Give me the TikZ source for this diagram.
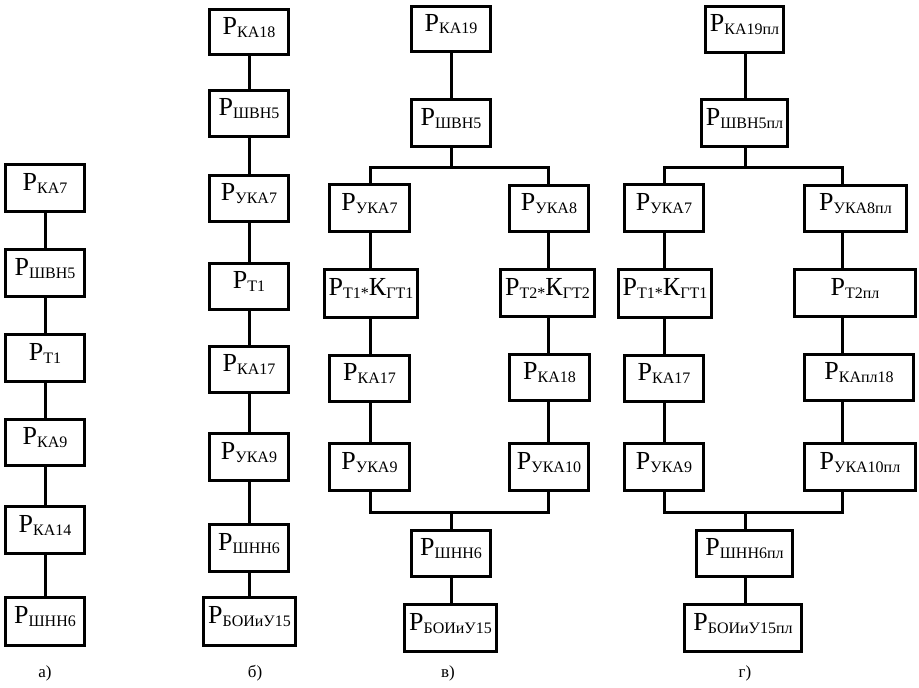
\documentclass[tikz,border=0pt]{standalone}
\usepackage{fontspec}
\setmainfont{Liberation Serif}
\newcommand{\sbs}[1]{\raisebox{-3pt}{\fontsize{16}{16}\selectfont #1}}
\newcommand{\bxt}[1]{\raisebox{-2pt}[0pt][0pt]{\fontsize{26}{26}\selectfont #1}}
\newcommand{\bx}[6]{\node[box, minimum width={#3-#2-3}, minimum height={#5-#4-3}] (#1) at ({(#2+#3)/2},{(#4+#5)/2}) {\bxt{#6}};}
\tikzset{
  box/.style={draw, line width=3.2pt, inner sep=0pt, fill=white},
  conn/.style={line width=3pt},
  caplabel/.style={font=\fontsize{17}{17}\selectfont}
}
\begin{document}
\begin{tikzpicture}[x=1pt,y=-1pt]
\useasboundingbox (0,0) rectangle (919,688);
% column a
\coordinate (xa) at (45,0);
\bx{a1}{4}{86}{163}{213}{Р\sbs{КА7}}
\bx{a2}{4}{86}{248}{298}{Р\sbs{ШВН5}}
\bx{a3}{4}{86}{333}{383}{Р\sbs{Т1}}
\bx{a4}{4}{86}{418}{467}{Р\sbs{КА9}}
\bx{a5}{4}{86}{505}{555}{Р\sbs{КА14}}
\bx{a6}{4}{86}{596}{647}{Р\sbs{ШНН6}}
\foreach \p/\q in {a1/a2,a2/a3,a3/a4,a4/a5,a5/a6}
  \draw[conn] (\p.south -| xa) -- (\q.north -| xa);
\node[caplabel] (la) at (45,673) {а)};
% column b
\coordinate (xb) at (249,0);
\bx{b1}{208}{290}{8}{56}{Р\sbs{КА18}}
\bx{b2}{208}{290}{89}{138}{Р\sbs{ШВН5}}
\bx{b3}{208}{290}{174}{223}{Р\sbs{УКА7}}
\bx{b4}{208}{290}{262}{311}{Р\sbs{Т1}}
\bx{b5}{208}{290}{345}{394}{Р\sbs{КА17}}
\bx{b6}{208}{290}{432}{482}{Р\sbs{УКА9}}
\bx{b7}{208}{290}{523}{573}{Р\sbs{ШНН6}}
\bx{b8}{202}{297}{596}{647}{Р\sbs{БОИиУ15}}
\foreach \p/\q in {b1/b2,b2/b3,b3/b4,b4/b5,b5/b6,b6/b7,b7/b8}
  \draw[conn] (\p.south -| xb) -- (\q.north -| xb);
\node[caplabel] (lb) at (255,673) {б)};
% column c
\coordinate (cL) at (370,0);
\coordinate (cR) at (548,0);
\coordinate (cM) at (451,0);
\coordinate (cbr) at (451,167);
\coordinate (cjn) at (451,512);
\bx{c1}{410}{492}{5}{53}{Р\sbs{КА19}}
\bx{c2}{410}{492}{98}{148}{Р\sbs{ШВН5}}
\bx{c3}{328}{411}{183}{233}{Р\sbs{УКА7}}
\bx{c4}{508}{590}{184}{233}{Р\sbs{УКА8}}
\bx{c5}{323}{419}{268}{319}{Р\sbs{Т1*}К\sbs{ГТ1}}
\bx{c6}{499}{596}{268}{318}{Р\sbs{Т2*}К\sbs{ГТ2}}
\bx{c7}{328}{411}{354}{403}{Р\sbs{КА17}}
\bx{c8}{508}{591}{353}{402}{Р\sbs{КА18}}
\bx{c9}{328}{411}{442}{492}{Р\sbs{УКА9}}
\bx{c10}{508}{590}{442}{492}{Р\sbs{УКА10}}
\bx{c11}{410}{492}{529}{578}{Р\sbs{ШНН6}}
\bx{c12}{403}{498}{603}{653}{Р\sbs{БОИиУ15}}
\draw[conn] (c1.south -| cM) -- (c2.north -| cM);
\draw[conn] (c2.south -| cM) -- (cbr);
\draw[conn] (c3.north -| cL) |- (cbr) -| (c4.north -| cR);
\foreach \p/\q in {c3/c5,c5/c7,c7/c9}
  \draw[conn] (\p.south -| cL) -- (\q.north -| cL);
\foreach \p/\q in {c4/c6,c6/c8,c8/c10}
  \draw[conn] (\p.south -| cR) -- (\q.north -| cR);
\draw[conn] (c9.south -| cL) |- (cjn) -| (c10.south -| cR);
\draw[conn] (cjn) -- (c11.north -| cM);
\draw[conn] (c11.south -| cM) -- (c12.north -| cM);
\node[caplabel] (lc) at (448,673) {в)};
% column d
\coordinate (dL) at (664,0);
\coordinate (dR) at (842,0);
\coordinate (dM) at (745,0);
\coordinate (dbr) at (745,167);
\coordinate (djn) at (745,512);
\bx{d1}{704}{785}{5}{54}{Р\sbs{КА19пл}}
\bx{d2}{700}{789}{98}{148}{Р\sbs{ШВН5пл}}
\bx{d3}{623}{705}{183}{233}{Р\sbs{УКА7}}
\bx{d4}{803}{908}{184}{233}{Р\sbs{УКА8пл}}
\bx{d5}{617}{713}{268}{319}{Р\sbs{Т1*}К\sbs{ГТ1}}
\bx{d6}{793}{917}{268}{318}{Р\sbs{Т2пл}}
\bx{d7}{623}{705}{354}{403}{Р\sbs{КА17}}
\bx{d8}{803}{915}{353}{402}{Р\sbs{КАпл18}}
\bx{d9}{623}{705}{442}{492}{Р\sbs{УКА9}}
\bx{d10}{803}{917}{442}{492}{Р\sbs{УКА10пл}}
\bx{d11}{695}{794}{529}{578}{Р\sbs{ШНН6пл}}
\bx{d12}{683}{803}{603}{653}{Р\sbs{БОИиУ15пл}}
\draw[conn] (d1.south -| dM) -- (d2.north -| dM);
\draw[conn] (d2.south -| dM) -- (dbr);
\draw[conn] (d3.north -| dL) |- (dbr) -| (d4.north -| dR);
\foreach \p/\q in {d3/d5,d5/d7,d7/d9}
  \draw[conn] (\p.south -| dL) -- (\q.north -| dL);
\foreach \p/\q in {d4/d6,d6/d8,d8/d10}
  \draw[conn] (\p.south -| dR) -- (\q.north -| dR);
\draw[conn] (d9.south -| dL) |- (djn) -| (d10.south -| dR);
\draw[conn] (djn) -- (d11.north -| dM);
\draw[conn] (d11.south -| dM) -- (d12.north -| dM);
\node[caplabel] (ld) at (745,673) {г)};
\end{tikzpicture}
\end{document}
